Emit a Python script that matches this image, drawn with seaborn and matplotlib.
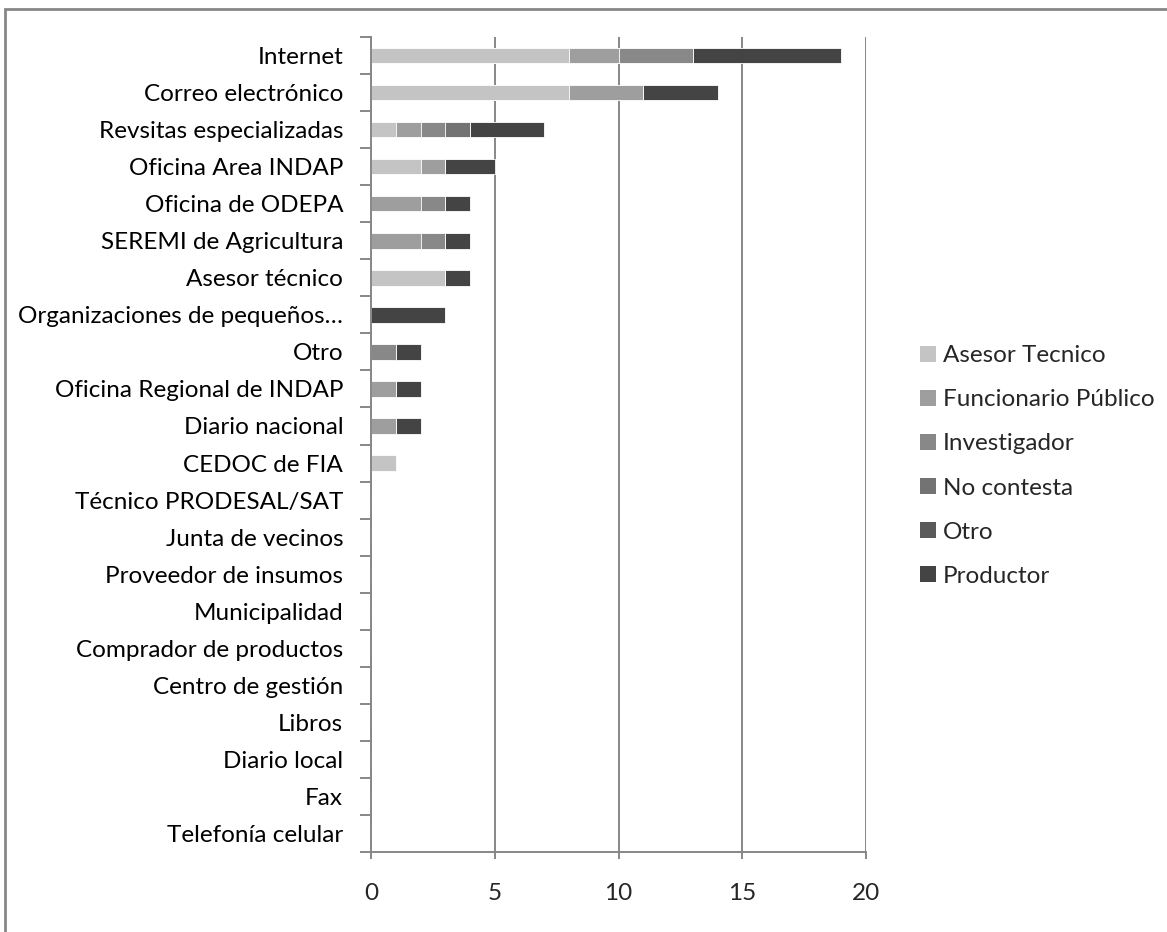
import numpy as np
import pandas as pd
import matplotlib.pyplot as plt
import seaborn as sns
from matplotlib.patches import Patch, Rectangle

# Data (top to bottom)
fuentes = ["Internet", "Correo electrónico", "Revsitas especializadas",
           "Oficina Area INDAP", "Oficina de ODEPA", "SEREMI de Agricultura",
           "Asesor técnico", "Organizaciones de pequeños…", "Otro",
           "Oficina Regional de INDAP", "Diario nacional", "CEDOC de FIA",
           "Técnico PRODESAL/SAT", "Junta de vecinos", "Proveedor de insumos",
           "Municipalidad", "Comprador de productos", "Centro de gestión",
           "Libros", "Diario local", "Fax", "Telefonía celular"]
asesor_tecnico = [8, 8, 1, 2, 0, 0, 3, 0, 0, 0, 0, 1, 0, 0, 0, 0, 0, 0, 0, 0, 0, 0]
funcionario    = [2, 3, 1, 1, 2, 2, 0, 0, 0, 1, 1, 0, 0, 0, 0, 0, 0, 0, 0, 0, 0, 0]
investigador   = [3, 0, 1, 0, 1, 1, 0, 0, 1, 0, 0, 0, 0, 0, 0, 0, 0, 0, 0, 0, 0, 0]
no_contesta    = [0, 0, 1, 0, 0, 0, 0, 0, 0, 0, 0, 0, 0, 0, 0, 0, 0, 0, 0, 0, 0, 0]
otro           = [0, 0, 0, 0, 0, 0, 0, 0, 0, 0, 0, 0, 0, 0, 0, 0, 0, 0, 0, 0, 0, 0]
productor      = [6, 3, 3, 2, 1, 1, 1, 3, 1, 1, 1, 0, 0, 0, 0, 0, 0, 0, 0, 0, 0, 0]

series = ["Asesor Tecnico", "Funcionario Público", "Investigador",
          "No contesta", "Otro", "Productor"]
colores = ["#c4c4c4", "#9e9e9e", "#888888", "#737373", "#5a5a5a", "#444444"]

df = pd.DataFrame({"fuente": fuentes,
                   "Asesor Tecnico": asesor_tecnico,
                   "Funcionario Público": funcionario,
                   "Investigador": investigador,
                   "No contesta": no_contesta,
                   "Otro": otro,
                   "Productor": productor})
cum = df[series].cumsum(axis=1)

sns.set_theme(style="white")
plt.rcParams["font.family"] = ["Lato", "DejaVu Sans"]
grey = "#878787"
fs = 17.5

fig = plt.figure(figsize=(11.67, 9.32), dpi=100)
ax = fig.add_axes([371 / 1167, 1 - 852 / 932, 495 / 1167, 815 / 932])

# stacked bars: draw cumulative totals from the last series back to the first
for name, col in zip(series[::-1], colores[::-1]):
    sns.barplot(x=cum[name], y=df["fuente"], order=fuentes, orient="h",
                color=col, saturation=1, width=0.42, edgecolor="white",
                linewidth=0.6, ax=ax)

ax.set_xlim(0, 20)
ax.set_ylim(len(fuentes) - 0.5, -0.5)
ax.set_xticks([0, 5, 10, 15, 20])
ax.set_yticks(np.arange(-0.5, len(fuentes), 1), minor=True)
ax.tick_params(axis="y", which="major", length=0, pad=20, labelsize=fs, colors="black")
ax.tick_params(axis="y", which="minor", length=8, width=1.4, color=grey, left=True)
ax.tick_params(axis="x", length=5, width=1.4, color=grey, bottom=True, pad=17,
               labelsize=fs)
ax.set_xlabel("")
ax.set_ylabel("")
ax.xaxis.grid(True, color=grey, linewidth=1.4)
ax.set_axisbelow(True)
for side in ["top", "right"]:
    ax.spines[side].set_visible(False)
for side in ["left", "bottom"]:
    ax.spines[side].set_color(grey)
    ax.spines[side].set_linewidth(1.4)

handles = [Patch(facecolor=c, edgecolor="none") for c in colores]
fig.legend(handles, series, loc="center left", bbox_to_anchor=(898 / 1167, 1 - 466 / 932),
           frameon=False, fontsize=fs, handlelength=0.65, handleheight=0.65,
           handletextpad=0.3, labelspacing=0.95)

# chart frame border
fig.add_artist(Rectangle((5 / 1167, -0.05), 1.2, 1 - 9 / 932 + 0.05,
                         transform=fig.transFigure, fill=False,
                         edgecolor=grey, linewidth=2))

fig.savefig("out.png", dpi=100)
